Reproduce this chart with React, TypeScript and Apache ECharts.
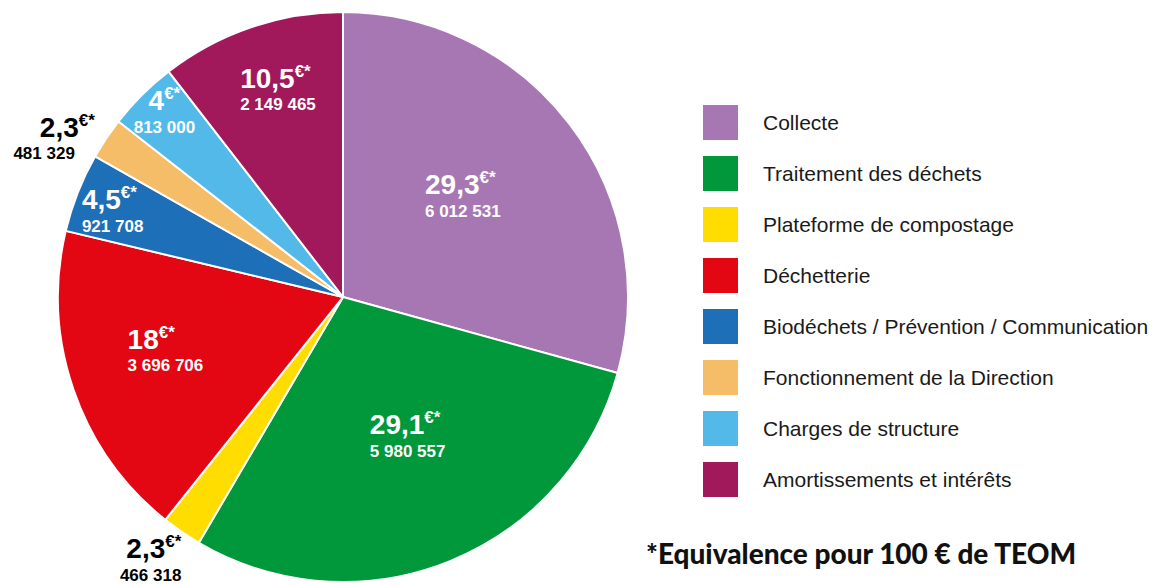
import React, { useEffect, useRef } from "react";
import * as echarts from "echarts";

const categories = [
  "Collecte",
  "Traitement des déchets",
  "Plateforme de compostage",
  "Déchetterie",
  "Biodéchets / Prévention / Communication",
  "Fonctionnement de la Direction",
  "Charges de structure",
  "Amortissements et intérêts",
];
const amounts = [6012531, 5980557, 466318, 3696706, 921708, 481329, 813000, 2149465];
const per100 = ["29,3", "29,1", "2,3", "18", "4,5", "2,3", "4", "10,5"];
const footnote = "*Equivalence pour 100 € de TEOM";

const colors = ["#A777B3", "#00983A", "#FFDD00", "#E30613", "#1D70B7", "#F6BD69", "#52B9E9", "#A1195A"];
const labelColors = ["#fff", "#fff", "#000", "#fff", "#fff", "#000", "#fff", "#fff"];
const labelAligns = ["left", "left", "right", "left", "left", "right", "center", "left"];
const numberPadRight = [0, 0, 0, 0, 0, 20, 0, 0];
const labelOffsets = [
  [4, -13],
  [10, 4],
  [-110, 143],
  [-40, 6],
  [-95, -33],
  [-168, -78],
  [-76, -82],
  [-18, -70],
];

const fmt = (n: number) => String(n).replace(/\B(?=(\d{3})+(?!\d))/g, " ");

export default function App() {
  const ref = useRef<HTMLDivElement>(null);
  useEffect(() => {
    if (!ref.current) return;
    const chart = echarts.init(ref.current, undefined, { renderer: "svg" });
    const font = "'Liberation Sans', Arial, sans-serif";
    const richFor = (i: number) => {
      const align = labelAligns[i];
      return {
        v: { fontFamily: font, fontSize: 28, fontWeight: "bold", lineHeight: 31, align },
        e: { fontFamily: font, fontSize: 17, fontWeight: "bold", verticalAlign: "top", lineHeight: 31, padding: [0, 0, 12, 0], align },
        n: { fontFamily: font, fontSize: 17, fontWeight: "bold", lineHeight: 22, align, padding: [0, numberPadRight[i], 0, 0] },
      };
    };
    chart.setOption({
      animation: false,
      color: colors,
      title: {
        text: footnote,
        left: 641,
        top: 534,
        textStyle: { fontFamily: "Lato", fontWeight: 900, fontSize: 28, color: "#111" },
      },
      legend: {
        orient: "vertical",
        left: 698,
        top: 100,
        itemWidth: 35,
        itemHeight: 35,
        itemGap: 16,
        icon: "rect",
        selectedMode: false,
        itemStyle: { borderWidth: 0 },
        textStyle: { fontFamily: font, fontSize: 21, color: "#1a1a1a", padding: [0, 0, 0, 20] },
        data: categories,
      },
      series: [
        {
          type: "pie",
          center: [343, 297],
          radius: [0, 285],
          startAngle: 90,
          clockwise: true,
          selectedMode: false,
          emphasis: { disabled: true },
          itemStyle: { borderColor: "#fff", borderWidth: 2 },
          labelLine: { show: false },
          label: { show: true, position: "inside", fontFamily: font },
          labelLayout: (p: any) => ({ dx: labelOffsets[p.dataIndex][0], dy: labelOffsets[p.dataIndex][1] }),
          data: categories.map((c, i) => ({
            name: c,
            value: amounts[i],
            label: {
              color: labelColors[i],
              rich: richFor(i),
              formatter: `{v|${per100[i]}}{e|€*}\n{n|${fmt(amounts[i])}}`,
            },
          })),
        },
      ],
    });
    return () => chart.dispose();
  }, []);
  return <div ref={ref} style={{ position: "fixed", left: 0, top: 0, width: 1155, height: 585, background: "#fff" }} />;
}
